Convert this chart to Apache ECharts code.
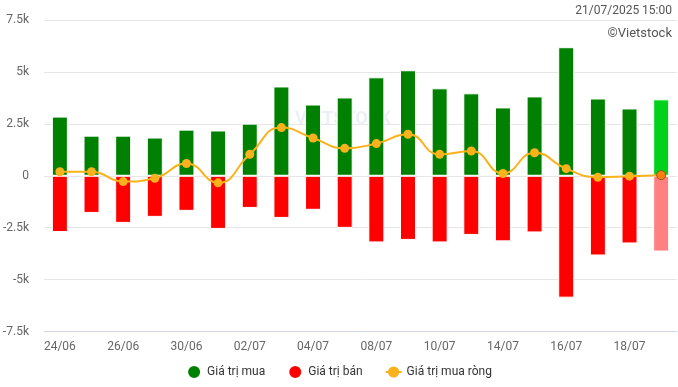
<!DOCTYPE html>
<html>
<head>
<meta charset="utf-8">
<script src="https://cdn.jsdelivr.net/npm/echarts@6/dist/echarts.min.js"></script>
<style>
html,body{margin:0;padding:0;background:#fff;}
#chart{width:678px;height:387px;}
</style>
</head>
<body>
<div id="chart"></div>
<script>
const categories = ['24/06','25/06','26/06','27/06','30/06','01/07','02/07','03/07','04/07','07/07','08/07','09/07','10/07','11/07','14/07','15/07','16/07','17/07','18/07','21/07'];
const buyValues = [2850,1930,1930,1840,2220,2180,2510,4300,3430,3770,4740,5080,4210,3970,3290,3820,6190,3720,3240,3680];
const sellValues = [-2710,-1790,-2270,-1980,-1690,-2560,-1550,-2030,-1640,-2510,-3210,-3090,-3210,-2850,-3160,-2730,-5870,-3840,-3260,-3650];
const netValues = [190,190,-280,-120,590,-340,1030,2320,1820,1320,1550,2000,1030,1190,110,1110,340,-70,-20,30];

const last = categories.length - 1;
const buyData = buyValues.map((v,i)=> i===last ? {value:v,itemStyle:{color:'#00d21c'}} : v);
const sellData = sellValues.map((v,i)=> i===last ? {value:v,itemStyle:{color:'#ff8080'}} : v);
const netData = netValues.map((v,i)=> i===last ? {value:v,symbolSize:9,itemStyle:{color:'#ff7f0e',borderColor:'#a0521a',borderWidth:1}} : v);

function fmt(v){
  if (v===0) return '0';
  return (v/1000) + 'k';
}

const chart = echarts.init(document.getElementById('chart'), null, {renderer:'canvas'});
chart.setOption({
  animation:false,
  backgroundColor:'#fff',
  textStyle:{fontFamily:'Roboto, "Noto Sans", sans-serif'},
  graphic:[
    {type:'text', right:6, top:5, style:{text:'21/07/2025 15:00', fill:'#555', font:'12px Roboto, sans-serif', textAlign:'right'}},
    {type:'text', right:6, top:27, style:{text:'©Vietstock', fill:'#555', font:'13px Roboto, sans-serif', textAlign:'right'}},
    {type:'text', left:295, top:110, z:-1, style:{text:'VIETSTOCK', fill:'rgba(200,210,225,0.35)', font:'bold 18px Roboto, sans-serif'}}
  ],
  grid:{left:44, right:1, top:20, bottom:55.5, containLabel:false},
  legend:{
    bottom:2, left:'center', itemGap:22, itemWidth:16, itemHeight:14,
    textStyle:{color:'#333', fontSize:12, fontWeight:'normal'},
    data:[
      {name:'Giá trị mua', icon:'circle'},
      {name:'Giá trị bán', icon:'circle'},
      {name:'Giá trị mua ròng'}
    ]
  },
  xAxis:{
    type:'category', data:categories, boundaryGap:true,
    axisLine:{show:true, onZero:false, lineStyle:{color:'#ccd6eb', width:1}},
    axisTick:{show:false},
    axisLabel:{interval:1, color:'#666', fontSize:12, margin:9}
  },
  yAxis:{
    type:'value', min:-7500, max:7500, interval:2500,
    axisLabel:{color:'#666', fontSize:12, margin:15, formatter:fmt},
    splitLine:{lineStyle:{color:'#e6e6e6', width:1}},
    axisLine:{show:false}, axisTick:{show:false}
  },
  series:[
    {
      name:'Giá trị mua', type:'bar', data:buyData, barWidth:16, barGap:'-100%',
      itemStyle:{color:'#008000', borderColor:'#fff', borderWidth:1}
    },
    {
      name:'Giá trị bán', type:'bar', data:sellData, barWidth:16,
      itemStyle:{color:'#ff0000', borderColor:'#fff', borderWidth:1}
    },
    {
      name:'Giá trị mua ròng', type:'line', data:netData, smooth:true,
      symbol:'circle', symbolSize:9,
      lineStyle:{color:'#f9b21b', width:2},
      itemStyle:{color:'#f9b21b'},
      z:5
    }
  ]
});
</script>
</body>
</html>
